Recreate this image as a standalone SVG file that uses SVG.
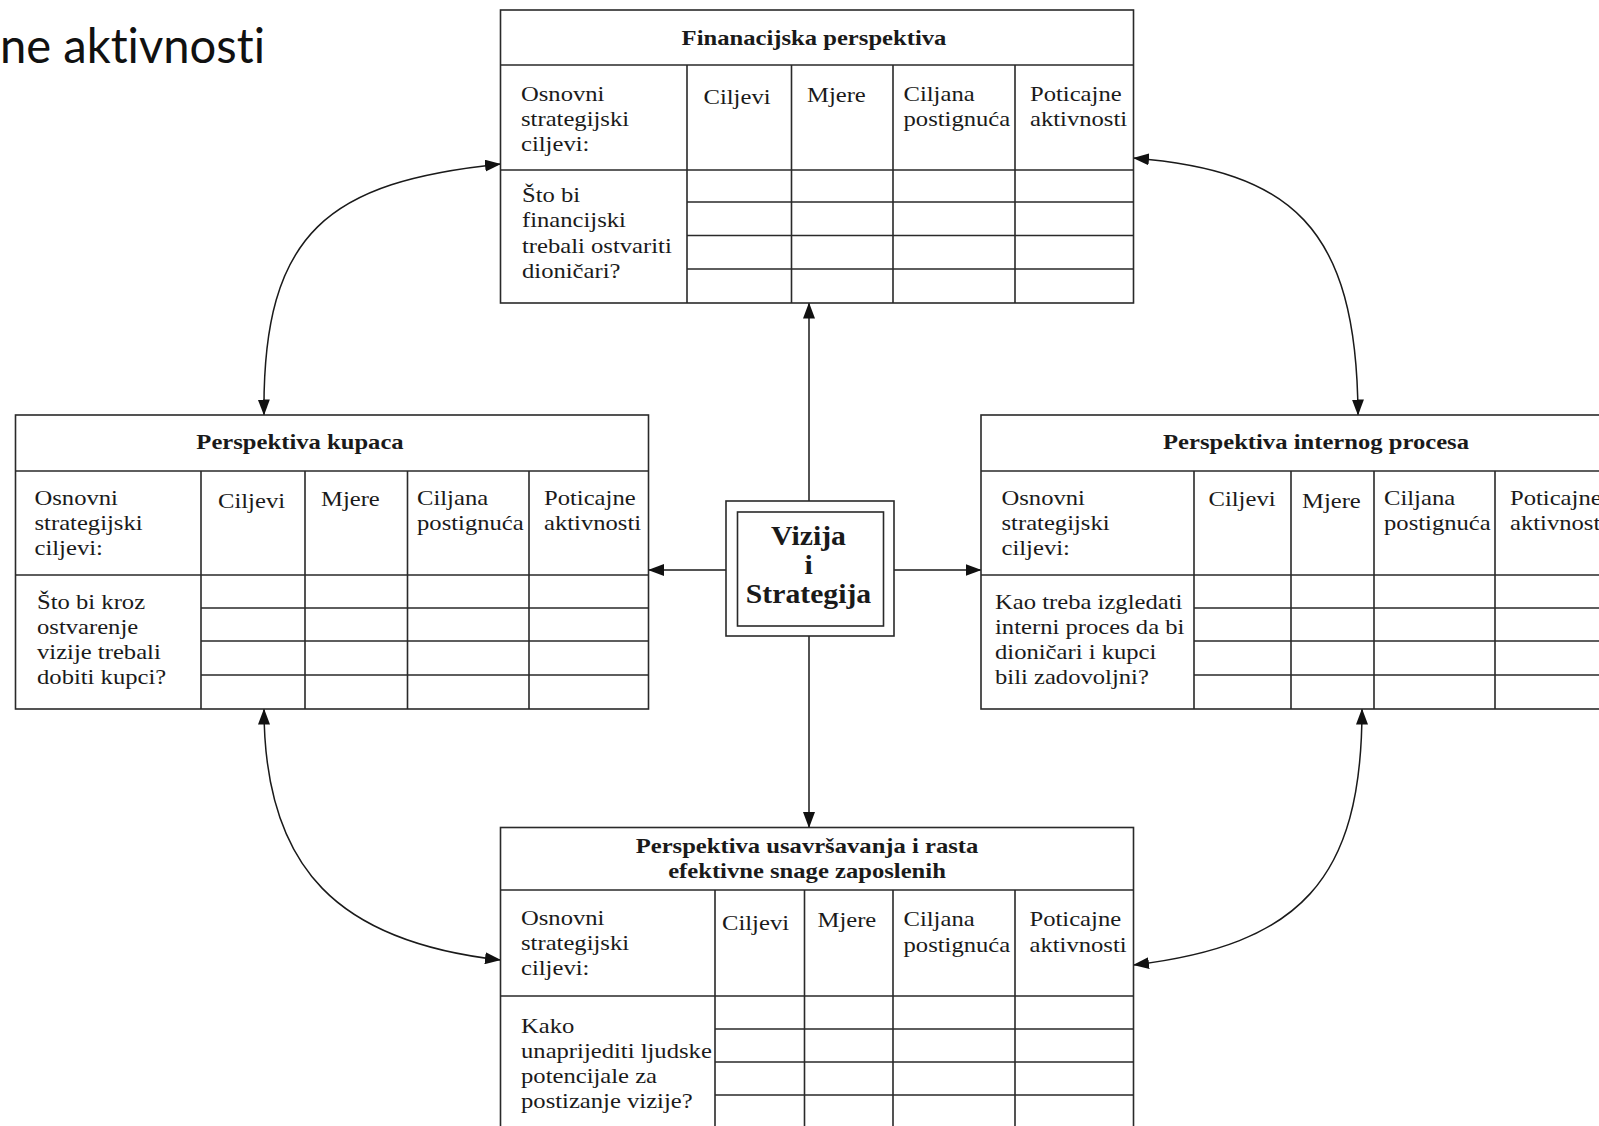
<svg xmlns="http://www.w3.org/2000/svg" width="1599" height="1126" viewBox="0 0 1599 1126">
<defs>
<style>
.t{font-family:"Liberation Serif","Times New Roman",serif;font-size:22px;fill:#1a1a1a}
.h{font-weight:bold;text-anchor:middle}
.v{font-family:"Liberation Serif","Times New Roman",serif;font-size:27px;font-weight:bold;fill:#1a1a1a;text-anchor:middle}
.ln{stroke:#2a2a2a;stroke-width:1.6;fill:none}
.cn{stroke:#1a1a1a;stroke-width:1.5;fill:none;marker-end:url(#ah)}
.cd{stroke:#1a1a1a;stroke-width:1.5;fill:none;marker-start:url(#ah);marker-end:url(#ah)}
.ttl{font-family:Lato,"Open Sans",sans-serif;font-size:48px;fill:#111;font-variant-ligatures:none;font-feature-settings:"liga" 0,"clig" 0}
</style>
<marker id="ah" viewBox="0 0 16 12" refX="15.5" refY="6" markerWidth="16" markerHeight="12" markerUnits="userSpaceOnUse" orient="auto-start-reverse">
<path d="M0 0L16 6L0 12z" fill="#111"/>
</marker>
</defs>
<rect width="1599" height="1126" fill="#fff"/>

<text class="ttl" x="0" y="63" textLength="265" lengthAdjust="spacingAndGlyphs">ne aktivnosti</text>

<g id="connectors">
<path class="cn" d="M809 501V303"/>
<path class="cn" d="M809 636V827.5"/>
<path class="cn" d="M726 570H648.5"/>
<path class="cn" d="M894 570H981"/>
<path class="cd" d="M264 415C262 230 330 182 500.5 164"/>
<path class="cd" d="M1133.5 158C1290 171 1357 225 1358 415"/>
<path class="cd" d="M264 709C264 870 340 942 500.5 960"/>
<path class="cd" d="M1133.5 965C1300 945 1362 880 1362 709"/>
</g>

<g id="financijska">
<rect class="ln" x="500.5" y="10" width="633" height="293" fill="#fff"/>
<path class="ln" d="M500.5 65H1133.5M500.5 170H1133.5M687 65V303M791.5 65V303M893 65V303M1015 65V303M687 202H1133.5M687 235.5H1133.5M687 269H1133.5"/>
<text class="t h" transform="translate(814,45) scale(1.12,1)">Finanacijska perspektiva</text>
<text class="t" transform="translate(521,101) scale(1.12,1)"><tspan x="0">Osnovni</tspan><tspan x="0" dy="25">strategijski</tspan><tspan x="0" dy="25">ciljevi:</tspan></text>
<text class="t" transform="translate(703.5,104) scale(1.12,1)">Ciljevi</text>
<text class="t" transform="translate(807,102) scale(1.12,1)">Mjere</text>
<text class="t" transform="translate(903.5,101) scale(1.12,1)"><tspan x="0">Ciljana</tspan><tspan x="0" dy="25">postignuća</tspan></text>
<text class="t" transform="translate(1030,101) scale(1.12,1)"><tspan x="0">Poticajne</tspan><tspan x="0" dy="25">aktivnosti</tspan></text>
<text class="t" transform="translate(522,202) scale(1.12,1)"><tspan x="0">Što bi</tspan><tspan x="0" dy="25.3">financijski</tspan><tspan x="0" dy="25.3">trebali ostvariti</tspan><tspan x="0" dy="25.3">dioničari?</tspan></text>
</g>

<g id="kupaca">
<rect class="ln" x="15.5" y="415" width="633" height="294" fill="#fff"/>
<path class="ln" d="M15.5 471H648.5M15.5 575H648.5M201 471V709M305 471V709M407.5 471V709M529 471V709M201 608H648.5M201 641H648.5M201 675H648.5"/>
<text class="t h" transform="translate(300,449) scale(1.12,1)">Perspektiva kupaca</text>
<text class="t" transform="translate(34.5,505) scale(1.12,1)"><tspan x="0">Osnovni</tspan><tspan x="0" dy="25">strategijski</tspan><tspan x="0" dy="25">ciljevi:</tspan></text>
<text class="t" transform="translate(218,508) scale(1.12,1)">Ciljevi</text>
<text class="t" transform="translate(321,506) scale(1.12,1)">Mjere</text>
<text class="t" transform="translate(417,505) scale(1.12,1)"><tspan x="0">Ciljana</tspan><tspan x="0" dy="25">postignuća</tspan></text>
<text class="t" transform="translate(544,505) scale(1.12,1)"><tspan x="0">Poticajne</tspan><tspan x="0" dy="25">aktivnosti</tspan></text>
<text class="t" transform="translate(37,609) scale(1.12,1)"><tspan x="0">Što bi kroz</tspan><tspan x="0" dy="25">ostvarenje</tspan><tspan x="0" dy="25">vizije trebali</tspan><tspan x="0" dy="25">dobiti kupci?</tspan></text>
</g>

<g id="internog">
<rect class="ln" x="981" y="415" width="632" height="294" fill="#fff"/>
<path class="ln" d="M981 471H1613M981 575H1613M1194 471V709M1291 471V709M1374 471V709M1495 471V709M1194 608H1613M1194 641H1613M1194 675H1613"/>
<text class="t h" transform="translate(1316,449) scale(1.12,1)">Perspektiva internog procesa</text>
<text class="t" transform="translate(1001.5,505) scale(1.12,1)"><tspan x="0">Osnovni</tspan><tspan x="0" dy="25">strategijski</tspan><tspan x="0" dy="25">ciljevi:</tspan></text>
<text class="t" transform="translate(1208.5,506) scale(1.12,1)">Ciljevi</text>
<text class="t" transform="translate(1302,508) scale(1.12,1)">Mjere</text>
<text class="t" transform="translate(1384,505) scale(1.12,1)"><tspan x="0">Ciljana</tspan><tspan x="0" dy="25">postignuća</tspan></text>
<text class="t" transform="translate(1510,505) scale(1.12,1)"><tspan x="0">Poticajne</tspan><tspan x="0" dy="25">aktivnosti</tspan></text>
<text class="t" transform="translate(995,609) scale(1.12,1)"><tspan x="0">Kao treba izgledati</tspan><tspan x="0" dy="25">interni proces da bi</tspan><tspan x="0" dy="25">dioničari i kupci</tspan><tspan x="0" dy="25">bili zadovoljni?</tspan></text>
</g>

<g id="usavrsavanja">
<rect class="ln" x="500.5" y="827.5" width="633" height="302" fill="#fff"/>
<path class="ln" d="M500.5 890H1133.5M500.5 996H1133.5M715 890V1130M804.5 890V1130M893 890V1130M1015 890V1130M715 1029H1133.5M715 1062H1133.5M715 1095H1133.5"/>
<text class="t h" transform="translate(807,853) scale(1.12,1)"><tspan x="0">Perspektiva usavršavanja i rasta</tspan><tspan x="0" dy="25">efektivne snage zaposlenih</tspan></text>
<text class="t" transform="translate(521,925) scale(1.12,1)"><tspan x="0">Osnovni</tspan><tspan x="0" dy="25">strategijski</tspan><tspan x="0" dy="25">ciljevi:</tspan></text>
<text class="t" transform="translate(722,930) scale(1.12,1)">Ciljevi</text>
<text class="t" transform="translate(817.5,927) scale(1.12,1)">Mjere</text>
<text class="t" transform="translate(903.5,926) scale(1.12,1)"><tspan x="0">Ciljana</tspan><tspan x="0" dy="26">postignuća</tspan></text>
<text class="t" transform="translate(1029.5,926) scale(1.12,1)"><tspan x="0">Poticajne</tspan><tspan x="0" dy="26">aktivnosti</tspan></text>
<text class="t" transform="translate(521,1033) scale(1.12,1)"><tspan x="0">Kako</tspan><tspan x="0" dy="25">unaprijediti ljudske</tspan><tspan x="0" dy="25">potencijale za</tspan><tspan x="0" dy="25">postizanje vizije?</tspan></text>
</g>

<g id="vizija">
<rect class="ln" x="726" y="501" width="168" height="135" fill="#fff" stroke-width="1.4"/>
<rect class="ln" x="737.5" y="512" width="146" height="114" stroke-width="1.4"/>
<text class="v" transform="translate(808.5,545) scale(1.1,1)"><tspan x="0">Vizija</tspan><tspan x="0" dy="29">i</tspan><tspan x="0" dy="29">Strategija</tspan></text>
</g>
</svg>
